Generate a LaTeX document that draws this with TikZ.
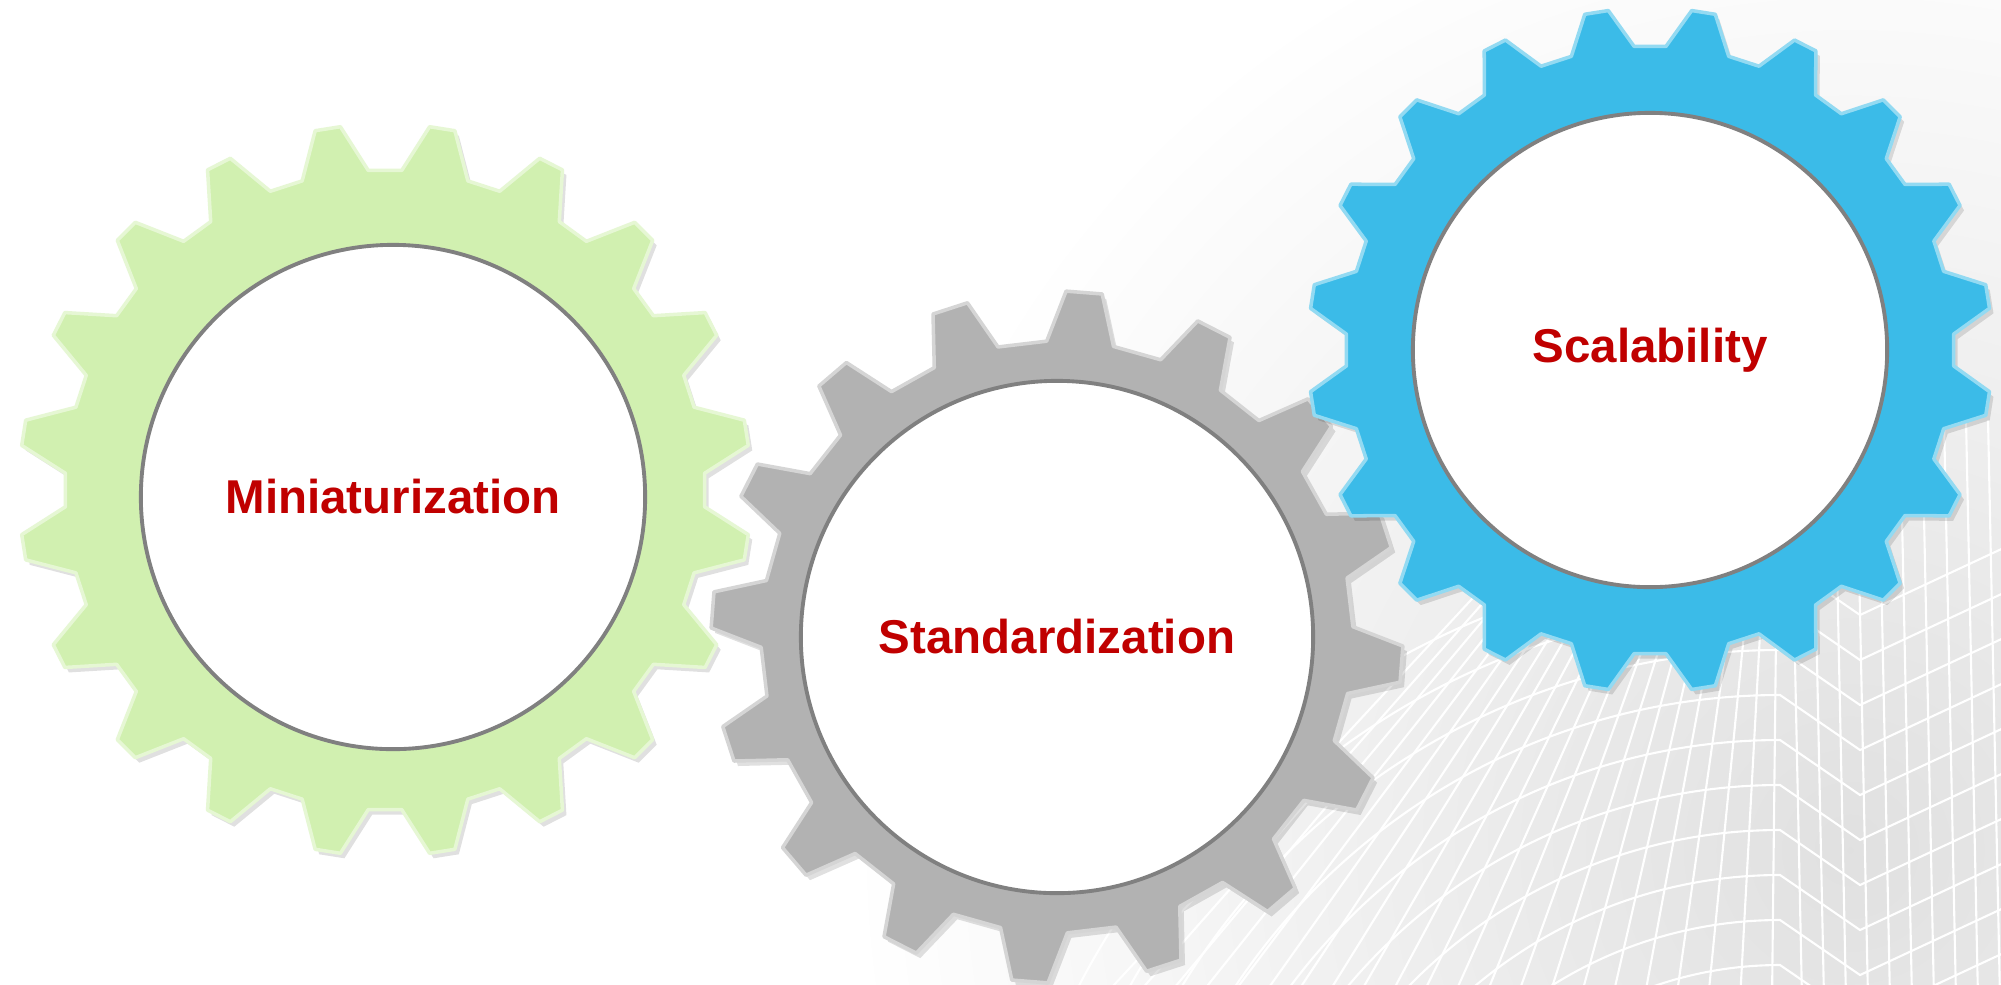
\documentclass[tikz,border=0pt]{standalone}
\usepackage{fontspec}
\setmainfont{Liberation Sans}
\usepackage{xcolor}
\usepackage{tikz}

\definecolor{gearGreen}{RGB}{209,240,176}
\definecolor{gearGrey}{RGB}{178,178,178}
\definecolor{gearBlue}{RGB}{59,187,232}
\definecolor{labelRed}{RGB}{192,0,0}
\definecolor{rimGrey}{RGB}{128,128,128}

% closed gear outline: teeth, root r, tip r, phase, half base, half tip
\newcommand{\gearpath}[6]{%
  ({#4+#5}:#2)
  \foreach \k [evaluate=\k as \a using #4+360/#1*\k] in {1,...,#1} {
    -- ({\a-#5}:#2) -- ({\a-#6}:#3) -- ({\a+#6}:#3) -- ({\a+#5}:#2)
  } -- cycle}

\begin{document}
\begin{tikzpicture}[
  x=0.01cm, y=-0.01cm,
  hub/.style={circle, draw=rimGrey, line width=1.1pt, fill=white, inner sep=0pt,
    text=labelRed, font=\fontsize{13.5}{16}\selectfont\bfseries},
  gearshadow/.style={fill=black, opacity=0.12, shift={(4,5)}},
  meshline/.style={draw=white, line width=0.6pt}
]
\useasboundingbox (0,0) rectangle (2001,984);
\fill[white] (0,0) rectangle (2001,984);

% background mesh
\begin{scope}
  \clip (0,0) rectangle (2001,984);
  \shade[inner color=gray!24, outer color=white] (1850,850) circle (1000);
  \foreach \xb in {1100,1132,...,1780}
    \draw[meshline] (\xb,1000) -- ({1780+(\xb-1780)*0.4},560);
  \foreach \xb in {1802,1824,...,2030}
    \draw[meshline] (\xb,1000) -- ({\xb-12},420);
  \foreach \h in {560,605,...,1010}
    \draw[meshline] ({1780-(1350-\h)},1350)
      .. controls ({1780-(1350-\h)},{\h+0.448*(1350-\h)}) and ({1780-0.552*(1350-\h)},\h) .. (1780,\h)
      -- (1860,{\h+55}) -- (2010,{\h-15});
\end{scope}

\coordinate (miniC) at (385,490);
\coordinate (stdC) at (1057,637);
\coordinate (scaleC) at (1650,350);

\begin{scope}[shift={(miniC)}]
  \fill[gearshadow] \gearpath{20}{320}{366}{9}{6}{2};
  \filldraw[fill=gearGreen, draw=gearGreen!55!white, line width=1pt, line join=round]
    \gearpath{20}{320}{366}{9}{6}{2};
\end{scope}
\begin{scope}[shift={(stdC)}]
  \fill[gearshadow] \gearpath{16}{296}{346}{4.5}{6.5}{3};
  \filldraw[fill=gearGrey, draw=gearGrey!55!white, line width=1pt, line join=round]
    \gearpath{16}{296}{346}{4.5}{6.5}{3};
\end{scope}
\begin{scope}[shift={(scaleC)}]
  \fill[gearshadow] \gearpath{20}{304}{342}{9}{6}{2};
  \filldraw[fill=gearBlue, draw=gearBlue!55!white, line width=1pt, line join=round]
    \gearpath{20}{304}{342}{9}{6}{2};
\end{scope}

\node[hub, minimum size=5.04cm] (mini) at (393,497) {Miniaturization};
\node[hub, minimum size=5.12cm] (std) at (stdC) {Standardization};
\node[hub, minimum size=4.74cm] (scale) at (scaleC) {Scalability};
\end{tikzpicture}
\end{document}
